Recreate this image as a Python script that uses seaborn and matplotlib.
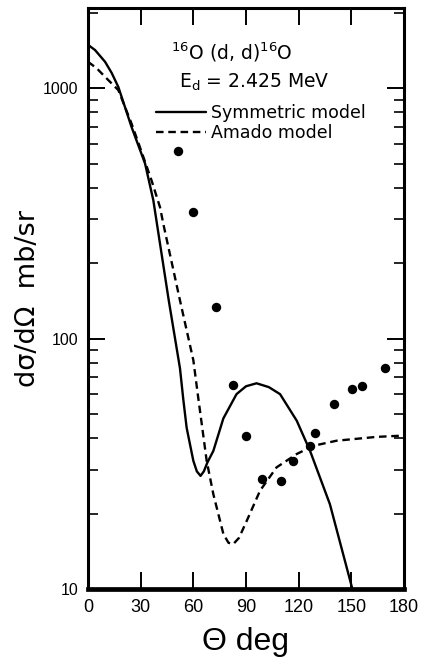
import matplotlib
matplotlib.use("Agg")
import matplotlib.pyplot as plt
import seaborn as sns
import pandas as pd
from matplotlib.ticker import LogLocator, NullFormatter, FixedLocator

# ---- data ----
sym_theta = [0, 4, 9.7, 13.5, 17.3, 24.8, 32.5, 37.2, 46, 52.4, 54.3, 56.2, 60, 62, 64.1, 66, 68,
             71.4, 77.1, 84.6, 90, 96, 103, 109.4, 118.9, 126.5, 137.8, 150.6]
sym_xs = [1490, 1420, 1275, 1150, 1010, 700, 500, 357, 142, 76, 57, 44, 32.5, 29.5, 28.3, 29.5, 32,
          35.6, 48, 60, 64.5, 66.3, 64, 60, 47, 35.6, 21.8, 10]

ama_theta = [0, 5, 9.7, 17.3, 24.8, 30, 36.2, 41, 43, 52.4, 60, 62.8, 67.6, 71.4, 77.1, 80,
             82.7, 86, 90.4, 98, 107.4, 118.9, 128.3, 141.6, 164.4, 180]
ama_xs = [1275, 1200, 1110, 982, 722, 570, 428, 335, 285, 142, 82, 58, 32.5, 23.9, 16.6, 15.3,
          15.1, 16, 18.7, 24.7, 30.6, 34.6, 37.3, 39.1, 40.5, 41]

pts_theta = [51.3, 59.8, 72.9, 82.7, 90, 98.9, 109.7, 116.5, 126.5, 129.3, 140, 150.2,
             155.9, 169.2]
pts_xs = [560, 319, 134, 65, 41, 27.5, 26.9, 32.5, 37.3, 41.8, 54.8, 62.9, 64.9, 76.5]

xticks = [0, 30, 60, 90, 120, 150, 180]
yticks = [10, 100, 1000]
labels = ["Symmetric model", "Amado model"]

sns.set_style("ticks")
plt.rcParams["font.family"] = ["DejaVu Sans"]
for k in ["text.color", "axes.labelcolor", "xtick.color", "ytick.color", "axes.edgecolor"]:
    plt.rcParams[k] = "black"

fig = plt.figure(figsize=(4.32, 6.63), dpi=100)
ax = fig.add_axes([88 / 432, 74 / 663, 316 / 432, 581 / 663])

df_sym = pd.DataFrame({"theta": sym_theta, "xs": sym_xs})
df_ama = pd.DataFrame({"theta": ama_theta, "xs": ama_xs})
df_pts = pd.DataFrame({"theta": pts_theta, "xs": pts_xs})

sns.lineplot(data=df_sym, x="theta", y="xs", ax=ax, color="black", lw=1.7,
             label=labels[0], sort=False)
sns.lineplot(data=df_ama, x="theta", y="xs", ax=ax, color="black", lw=1.7,
             label=labels[1], sort=False, dashes=False)
ax.lines[1].set_dashes((3.2, 2.0))
sns.scatterplot(data=df_pts, x="theta", y="xs", ax=ax, color="black", s=46,
                edgecolor="black", linewidth=0, zorder=5)

ax.set_yscale("log")
ax.set_xlim(0, 180)
ax.set_ylim(10, 2090)
ax.xaxis.set_major_locator(FixedLocator(xticks))
ax.yaxis.set_major_locator(FixedLocator(yticks))
ax.yaxis.set_minor_locator(LogLocator(base=10, subs=range(2, 10)))
ax.yaxis.set_minor_formatter(NullFormatter())
ax.set_xticklabels([str(t) for t in xticks], fontfamily="Liberation Sans", fontsize=13)
ax.set_yticklabels([str(t) for t in yticks], fontfamily="Liberation Sans", fontsize=11.5)

ax.tick_params(axis="both", which="major", direction="in", length=12, width=1.4,
               top=True, right=True, colors="black")
ax.tick_params(axis="y", which="minor", direction="in", length=7, width=1.2,
               left=True, right=True, colors="black")
ax.tick_params(axis="x", which="major", pad=7)
ax.tick_params(axis="y", which="major", pad=7)

for side, sp in ax.spines.items():
    sp.set_visible(True)
    sp.set_color("black")
    sp.set_linewidth(2.2)
ax.spines["bottom"].set_linewidth(3.4)

ax.set_xlabel("Θ deg", fontfamily="Liberation Sans", fontsize=23, labelpad=8)
ax.set_ylabel("dσ/dΩ  mb/sr", fontsize=19.5, labelpad=3)
ax.yaxis.set_label_coords(-0.15, 0.5)

ax.text(0.455, 0.923, r"$^{16}$O (d, d)$^{16}$O", transform=ax.transAxes,
        fontsize=13.5, ha="center", va="center")
ax.text(0.525, 0.872, r"E$_{\mathsf{d}}$ = 2.425 MeV", transform=ax.transAxes,
        fontsize=13.5, ha="center", va="center")

leg = ax.legend(loc="upper left", bbox_to_anchor=(0.215, 0.835), frameon=False,
                fontsize=12.5, handlelength=2.9, handletextpad=0.25, labelspacing=0.12,
                borderpad=0, borderaxespad=0)
for h in leg.get_lines():
    h.set_linewidth(1.7)

fig.savefig("out.png", dpi=100)
